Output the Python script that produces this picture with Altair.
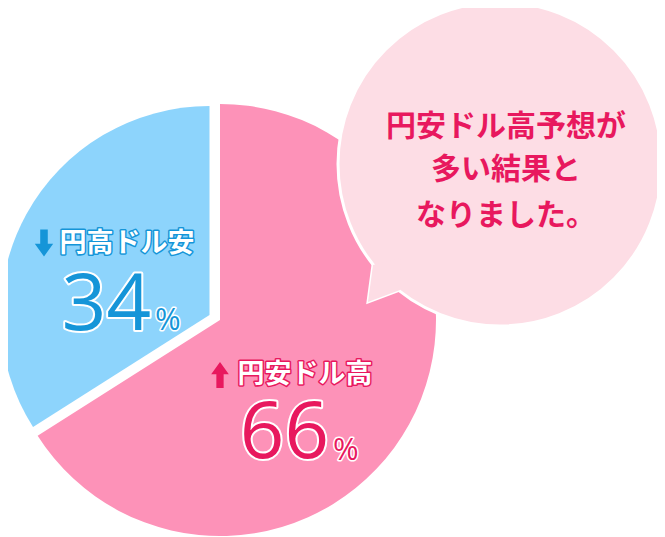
import altair as alt
import pandas as pd

# ---- data ----
categories = ["円安ドル高", "円高ドル安"]
values = [66, 34]
order = [1, 2]
bubble_lines = ["円安ドル高予想が", "多い結果と", "なりました。"]

PINK = "#FD92B8"
BLUE = "#8DD4FC"
PINK_TXT = "#E8185E"
BLUE_TXT = "#1595D8"
BUBBLE = "#FDDDE5"
FONT_JP = "Noto Sans CJK JP"
FONT_NUM = "Open Sans"

M = 8  # page margin -> plot coords


def P(v):
    return v - M


pie_df = pd.DataFrame({"cat": categories, "value": values, "order": order})

color = alt.Color("cat:N", scale=alt.Scale(domain=categories, range=[PINK, BLUE]), legend=None)


def pie_layer(show, cx, cy, r):
    return alt.Chart(pie_df).mark_arc(outerRadius=r, stroke=None).encode(
        theta=alt.Theta("value:Q", stack=True),
        order=alt.Order("order:Q"),
        color=color,
        opacity=alt.condition(alt.datum.cat == show, alt.value(1), alt.value(0)),
        x=alt.value(P(cx)),
        y=alt.value(P(cy)),
    )


pink_pie = pie_layer(categories[0], 220, 320, 216)
blue_pie = pie_layer(categories[1], 209.5, 315, 209)

# speech bubble
one = pd.DataFrame({"k": [0]})
tail_path = "M -0.425 0.55 L -0.3 -0.375 L 0.4 -0.55 L 0.375 0.25 Z"
tail_stroke = alt.Chart(one).mark_point(
    shape=tail_path, size=6400, filled=True, fill=BUBBLE, stroke="white", strokeWidth=3, opacity=1
).encode(x=alt.value(P(385)), y=alt.value(P(280)))
circle = alt.Chart(one).mark_point(
    shape="circle", size=324 * 324, filled=True, fill=BUBBLE, stroke="white", strokeWidth=3, opacity=1
).encode(x=alt.value(P(500)), y=alt.value(P(164)))
tail_fill = alt.Chart(one).mark_point(
    shape=tail_path, size=6400, filled=True, fill=BUBBLE, strokeWidth=0, opacity=1
).encode(x=alt.value(P(385)), y=alt.value(P(280)))


def txt(text, x, y, size, fill, font, weight="normal", align="center", baseline="middle",
        stroke=None, sw=0):
    df = pd.DataFrame({"t": [text]})
    layers = []
    if stroke:
        layers.append(alt.Chart(df).mark_text(
            font=font, fontSize=size, fontWeight=weight, align=align, baseline=baseline,
            fill=stroke, stroke=stroke, strokeWidth=sw, strokeJoin="round"
        ).encode(text="t:N", x=alt.value(P(x)), y=alt.value(P(y))))
    layers.append(alt.Chart(df).mark_text(
        font=font, fontSize=size, fontWeight=weight, align=align, baseline=baseline, fill=fill
    ).encode(text="t:N", x=alt.value(P(x)), y=alt.value(P(y))))
    return layers


bubble_text = []
for line, yy in zip(bubble_lines, [127, 170, 216]):
    bubble_text += txt(line, 506, yy, 30, PINK_TXT, FONT_JP, weight="bold")

# arrows
arrow_down = "M -0.28 -1 L 0.28 -1 L 0.28 0.05 L 0.68 0.05 L 0 1 L -0.68 0.05 L -0.28 0.05 Z"
arrow_up = "M -0.28 1 L 0.28 1 L 0.28 -0.05 L 0.68 -0.05 L 0 -1 L -0.68 -0.05 L -0.28 -0.05 Z"
a_blue = alt.Chart(one).mark_point(shape=arrow_down, size=27 * 27, filled=True, fill=BLUE_TXT,
                                   strokeWidth=0, opacity=1).encode(
    x=alt.value(P(44)), y=alt.value(P(243)))
a_pink = alt.Chart(one).mark_point(shape=arrow_up, size=26 * 26, filled=True, fill=PINK_TXT,
                                   strokeWidth=0, opacity=1).encode(
    x=alt.value(P(220)), y=alt.value(P(375)))

labels = []
labels += txt(categories[1], 127, 244, 27, "white", FONT_JP, weight="bold", stroke=BLUE_TXT, sw=3)
labels += txt(str(values[1]), 151, 330, 78, BLUE_TXT, FONT_NUM, weight=500, align="right",
              baseline="alphabetic", stroke="white", sw=4)
labels += txt("%", 155, 330, 31, BLUE_TXT, FONT_NUM, weight=500, align="left", baseline="alphabetic",
              stroke="white", sw=3)
labels += txt(categories[0], 305, 375, 27, "white", FONT_JP, weight="bold", stroke=PINK_TXT, sw=3)
labels += txt(str(values[0]), 329, 458, 78, PINK_TXT, FONT_NUM, weight=500, align="right",
              baseline="alphabetic", stroke="white", sw=4)
labels += txt("%", 333, 460, 31, PINK_TXT, FONT_NUM, weight=500, align="left", baseline="alphabetic",
              stroke="white", sw=3)

chart = alt.layer(
    pink_pie, blue_pie, tail_stroke, circle, tail_fill, *bubble_text, a_blue, a_pink, *labels
).properties(
    width=649, height=529, padding=0, autosize=alt.AutoSizeParams(type="none")
).configure_view(stroke=None)

chart.save("out.html", embed_options={"renderer": "svg", "actions": False})
